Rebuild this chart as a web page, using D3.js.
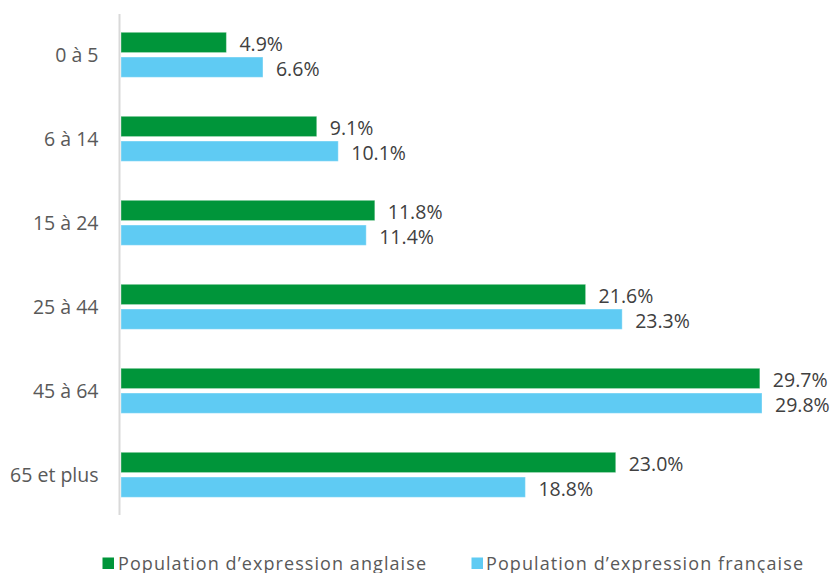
<!DOCTYPE html>
<html><head><meta charset="utf-8">
<script src="https://cdn.jsdelivr.net/npm/d3@7"></script>
<style>body{margin:0;background:#fff}svg{display:block}</style>
</head><body>
<svg id="c" width="831" height="573"></svg>
<script>
const categories = ["0 à 5", "6 à 14", "15 à 24", "25 à 44", "45 à 64", "65 et plus"];
const seriesNames = ["Population d\u2019expression anglaise", "Population d\u2019expression française"];
const anglaise = [4.9, 9.1, 11.8, 21.6, 29.7, 23.0];
const francaise = [6.6, 10.1, 11.4, 23.3, 29.8, 18.8];
const colors = ["#00953A", "#5FCBF3"];

const svg = d3.select("#c");
const FONT = "'Open Sans', sans-serif";

const x = d3.scaleLinear().domain([0, 30]).range([121, 766.3]);
const y0 = d3.scaleBand().domain(categories).range([12.5, 516.5]).paddingInner(0).paddingOuter(0);
const groupH = 45;
const y1 = d3.scaleBand().domain([0, 1]).range([0, groupH]).paddingInner(0.18);

const data = categories.map((c, i) => ({cat: c, vals: [anglaise[i], francaise[i]]}));

const g = svg.append("g");
const groups = g.selectAll("g.grp").data(data).join("g")
  .attr("transform", d => `translate(0,${y0(d.cat) + y0.bandwidth()/2 - groupH/2 + 0.3})`);

groups.selectAll("rect").data(d => d.vals.map((v, k) => ({v, k}))).join("rect")
  .attr("x", x(0))
  .attr("y", d => y1(d.k))
  .attr("width", d => x(d.v) - x(0))
  .attr("height", y1.bandwidth())
  .attr("fill", d => colors[d.k])
  .attr("stroke", "#ffffff").attr("stroke-opacity", 0.35).attr("stroke-width", 1);

groups.selectAll("text.val").data(d => d.vals.map((v, k) => ({v, k}))).join("text")
  .attr("class", "val")
  .attr("x", d => x(d.v) + 13)
  .attr("y", d => y1(d.k) + y1.bandwidth()/2 + 1)
  .attr("dominant-baseline", "central")
  .attr("font-family", FONT).attr("font-size", "19.5px").attr("fill", "#404040")
  .text(d => d.v.toFixed(1) + "%");

// axis line (category axis)
const axis = d3.axisLeft(y0).tickSize(0).tickPadding(21);
const ax = svg.append("g").attr("transform", `translate(${x(0) - 1.5},0)`).call(axis);
ax.select(".domain").attr("stroke", "#d9d9d9").attr("stroke-width", 2)
  .attr("d", "M0,14V515");
ax.selectAll(".tick text").attr("font-family", FONT).attr("font-size", "19.5px")
  .attr("fill", "#595959").attr("dy", "0.38em");

// legend
const legendItems = [
  {name: seriesNames[0], color: colors[0], sx: 102.5, tx: 118, tw: 308},
  {name: seriesNames[1], color: colors[1], sx: 471.5, tx: 486, tw: 317}
];
const lg = svg.append("g");
legendItems.forEach(it => {
  lg.append("rect").attr("x", it.sx).attr("y", 557.5).attr("width", 11.5).attr("height", 11.5).attr("fill", it.color);
  lg.append("text").attr("x", it.tx).attr("y", 569.5)
    .attr("font-family", FONT).attr("font-size", "18px").attr("fill", "#595959")
    .attr("textLength", it.tw).attr("lengthAdjust", "spacing")
    .text(it.name);
});
</script>
</body></html>
